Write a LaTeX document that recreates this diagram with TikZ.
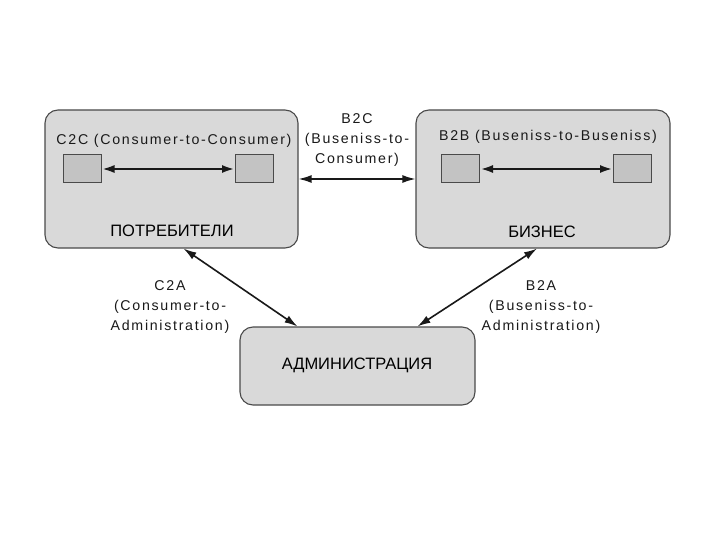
\documentclass[tikz,border=0pt]{standalone}
\usepackage{fontspec}
\setmainfont{Liberation Sans}[LetterSpace=12]
\newfontfamily\cyrfont{Liberation Sans}
\usetikzlibrary{arrows.meta}
\definecolor{boxfill}{HTML}{D9D9D9}
\definecolor{boxline}{HTML}{4A4A4A}
\definecolor{sqfill}{HTML}{C3C3C3}
\tikzset{
  bigbox/.style={draw=boxline, line width=1.1pt, fill=boxfill, rounded corners=13pt, inner sep=0pt},
  sqbox/.style={draw=boxline, line width=1pt, fill=sqfill, minimum width=38pt, minimum height=28pt, inner sep=0pt},
  lbl/.style={font=\fontsize{14.2}{20}\selectfont, align=center, inner sep=0pt, text=black!90},
  cyr/.style={font=\cyrfont\fontsize{16.5}{20}\selectfont, inner sep=0pt, text=black},
  thickarr/.style={arrows={Latex[length=13pt,width=8pt]-Latex[length=13pt,width=8pt]}, line width=2.6pt, draw=black!90},
  thinarr/.style={arrows={Latex[length=13pt,width=8pt]-Latex[length=13pt,width=8pt]}, line width=1.6pt, draw=black!90}
}
\begin{document}
\begin{tikzpicture}[x=1pt,y=-1pt]
\useasboundingbox[fill=white] (0,0) rectangle (720,540);
% big boxes
\node[bigbox, minimum width=253pt, minimum height=138pt] (cons) at (171.5,179) {};
\node[bigbox, minimum width=254pt, minimum height=138pt] (biz) at (543,179) {};
\node[bigbox, minimum width=235pt, minimum height=78pt] (adm) at (357.5,366) {};
% squares
\node[sqbox] (c1) at (82,169) {};
\node[sqbox] (c2) at (254.5,169) {};
\node[sqbox] (b1) at (460.5,169) {};
\node[sqbox] (b2) at (632.5,169) {};
% texts in boxes
\node[lbl] (t1) at (174,141) {C2C (Consumer-to-Consumer)};
\node[cyr] (t2) at (172,231) {ПОТРЕБИТЕЛИ};
\node[lbl] (t3) at (548,137) {B2B (Buseniss-to-Buseniss)};
\node[cyr] (t4) at (542,232) {БИЗНЕС};
\node[cyr] (t5) at (357,365) {АДМИНИСТРАЦИЯ};
% arrows
\draw[thickarr] (c1) -- (c2);
\draw[thickarr] (b1) -- (b2);
\draw[thinarr] (cons.east) -- (biz.west);
\draw[thinarr] ([xshift=12pt]cons.south) -- ([xshift=-60pt]adm.north);
\draw[thinarr] ([xshift=-6pt]biz.south) -- ([xshift=60pt]adm.north);
% connector labels
\node[lbl] (l1) at (357,140) {B2C\\(Buseniss-to-\\Consumer)};
\node[lbl] (l2) at (170,307) {C2A\\(Consumer-to-\\Administration)};
\node[lbl] (l3) at (541,307) {B2A\\(Buseniss-to-\\Administration)};
\end{tikzpicture}
\end{document}
